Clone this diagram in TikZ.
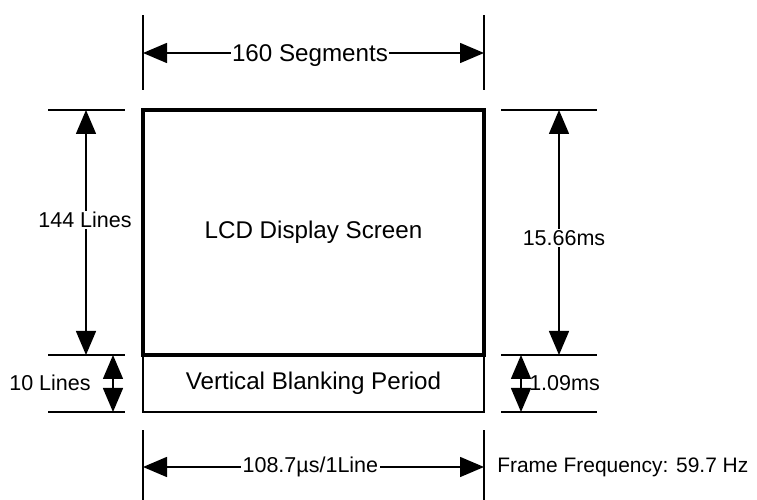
\documentclass[tikz,border=0pt]{standalone}
\usepackage{fontspec}
\setmainfont{Liberation Sans}
\usetikzlibrary{arrows.meta,positioning}
\tikzset{
  ext/.style={line width=1.1pt},
  dim/.style={line width=1.1pt,{Triangle[length=0.6cm,width=0.5cm]}-{Triangle[length=0.6cm,width=0.5cm]}},
  lbl/.style={fill=white,inner sep=1pt},
  big/.style={font=\fontsize{17.2pt}{20pt}\selectfont},
  panel/.style={draw,big,minimum width=8.525cm,inner sep=0,outer sep=0},
}
\begin{document}
\begin{tikzpicture}[font=\fontsize{15.3pt}{18pt}\selectfont]
\useasboundingbox (0,0) rectangle (18.925,12.5);
% screen and blanking period
\node[panel,line width=2.2pt,minimum height=6.125cm] (screen) at (7.8375,6.6875) {LCD Display Screen};
\node[panel,line width=1.1pt,minimum height=1.425cm,below=0pt of screen] (blank) {Vertical Blanking Period};
% extension lines
\draw[ext] (3.575,10.25) -- (3.575,12.125); \draw[ext] (12.1,10.25) -- (12.1,12.125);
\draw[ext] (3.575,0) -- (3.575,1.75); \draw[ext] (12.1,0) -- (12.1,1.75);
\foreach \y in {9.75,3.625,2.2} {
  \draw[ext] (1.2,\y) -- (3.125,\y);
  \draw[ext] (12.525,\y) -- (14.925,\y);
}
% dimension ends
\coordinate (segl) at (3.575,11.175); \coordinate (segr) at (12.1,11.175);
\coordinate (linel) at (3.575,0.825); \coordinate (liner) at (12.1,0.825);
\coordinate (scrlt) at (2.15,9.75); \coordinate (scrlb) at (2.15,3.625);
\coordinate (blklt) at (2.825,3.625); \coordinate (blklb) at (2.825,2.2);
\coordinate (scrrt) at (13.975,9.75); \coordinate (scrrb) at (13.975,3.625);
\coordinate (blkrt) at (13.025,3.625); \coordinate (blkrb) at (13.025,2.2);
\draw[dim] (segl) -- (segr);
\draw[dim] (linel) -- (liner);
\draw[dim] (scrlt) -- (scrlb); \draw[dim] (blklt) -- (blklb);
\draw[dim] (scrrt) -- (scrrb); \draw[dim] (blkrt) -- (blkrb);
% labels
\node[lbl,big] (seglbl) at (7.75,11.1) {160 Segments};
\node[lbl] (linelbl) at (7.76,0.825) {108.7µs/1Line};
\node[lbl] (scrlines) at (2.125,7.0) {144 Lines};
\node (blklines) at (1.25,2.925) {10 Lines};
\node[lbl] (scrtime) at (14.1,6.55) {15.66ms};
\node[anchor=west,inner sep=0] (blktime) at (13.225,2.925) {1.09ms};
\node[anchor=base west,inner sep=0,font=\fontsize{14.9pt}{18pt}\selectfont] (framefreq) at (12.425,0.675) {Frame Frequency: 59.7 Hz};
\end{tikzpicture}
\end{document}
